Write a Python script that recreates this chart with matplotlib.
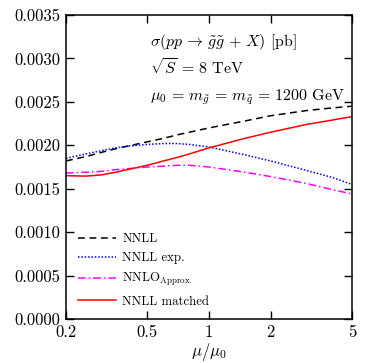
import numpy as np
import matplotlib
matplotlib.use("Agg")
import matplotlib.pyplot as plt
from matplotlib.ticker import FixedLocator, FixedFormatter, NullLocator

plt.rcParams['font.family'] = 'cmr10'
plt.rcParams['mathtext.fontset'] = 'cm'
plt.rcParams['axes.formatter.use_mathtext'] = True

# values
mu = [0.2, 0.25, 0.3, 0.35, 0.4, 0.5, 0.6, 0.7, 0.8, 1.0, 1.5, 2.0, 3.0, 4.0, 5.0]
nnll = [0.00182, 0.00187, 0.00192, 0.00196, 0.00199, 0.00204, 0.00208, 0.00212,
        0.00215, 0.00220, 0.00228, 0.00234, 0.00240, 0.00243, 0.00245]
nnll_exp = [0.00185, 0.00190, 0.00194, 0.00197, 0.00199, 0.00201, 0.00202,
            0.00202, 0.00201, 0.00198, 0.00189, 0.00182, 0.00171, 0.00163, 0.00155]
nnlo_approx = [0.00168, 0.00169, 0.00170, 0.00172, 0.00173, 0.00175, 0.00176,
               0.00177, 0.00177, 0.00175, 0.00169, 0.00164, 0.00156, 0.00149, 0.00144]
nnll_matched = [0.00165, 0.001645, 0.00166, 0.00169, 0.00172, 0.00177, 0.00182,
                0.00186, 0.00190, 0.00197, 0.00208, 0.00215, 0.00224, 0.00229, 0.00233]

xticks = [0.2, 0.5, 1, 2, 5]
xtick_labels = ["0.2", "0.5", "1", "2", "5"]
yticks = [0.0, 0.0005, 0.0010, 0.0015, 0.0020, 0.0025, 0.0030, 0.0035]
ytick_labels = ["%.4f" % v for v in yticks]

fig = plt.figure(figsize=(3.74, 3.63), dpi=100)
ax = fig.add_axes([0.1765, 0.1212, 0.7645, 0.8375])

ax.plot(mu, nnll, color='black', ls=(0, (4.5, 3)), lw=1.1, label='NNLL')
ax.plot(mu, nnll_exp, color='blue', ls=(0, (1, 1.2)), lw=1.1, label='NNLL exp.')
ax.plot(mu, nnlo_approx, color='magenta', ls=(0, (5, 2, 1, 2)), lw=1.1,
        label=r'NNLO$_{\mathrm{Approx.}}$')
ax.plot(mu, nnll_matched, color='red', ls='-', lw=1.1, label='NNLL matched')

ax.set_xscale('log')
ax.set_xlim(0.2, 5)
ax.set_ylim(0, 0.0035)
ax.xaxis.set_major_locator(FixedLocator(xticks))
ax.xaxis.set_major_formatter(FixedFormatter(xtick_labels))
ax.xaxis.set_minor_locator(NullLocator())
ax.yaxis.set_major_locator(FixedLocator(yticks))
ax.yaxis.set_major_formatter(FixedFormatter(ytick_labels))
ax.tick_params(direction='in', length=6, width=1, top=True, right=True,
               labelsize=12, pad=4)
for s in ax.spines.values():
    s.set_linewidth(1.1)

ax.set_xlabel(r'$\mu/\mu_0$', fontsize=12, labelpad=1)

ax.text(0.294, 0.911, r'$\sigma(pp\,\rightarrow\,\tilde{g}\tilde{g}\,+\,X)$ [pb]',
        transform=ax.transAxes, fontsize=11.5, va='center')
ax.text(0.294, 0.826, r'$\sqrt{S}\,=\,8$ TeV',
        transform=ax.transAxes, fontsize=11.5, va='center')
ax.text(0.294, 0.73, r'$\mu_0\,=\,m_{\tilde{g}}\,=\,m_{\tilde{q}}\,=\,1200$ GeV',
        transform=ax.transAxes, fontsize=11.5, va='center')

ax.legend(loc='lower left', frameon=False, fontsize=9.2, handlelength=3.0,
          handletextpad=0.5, labelspacing=0.55, bbox_to_anchor=(0.0, 0.0))

fig.savefig('out.png', dpi=100)
